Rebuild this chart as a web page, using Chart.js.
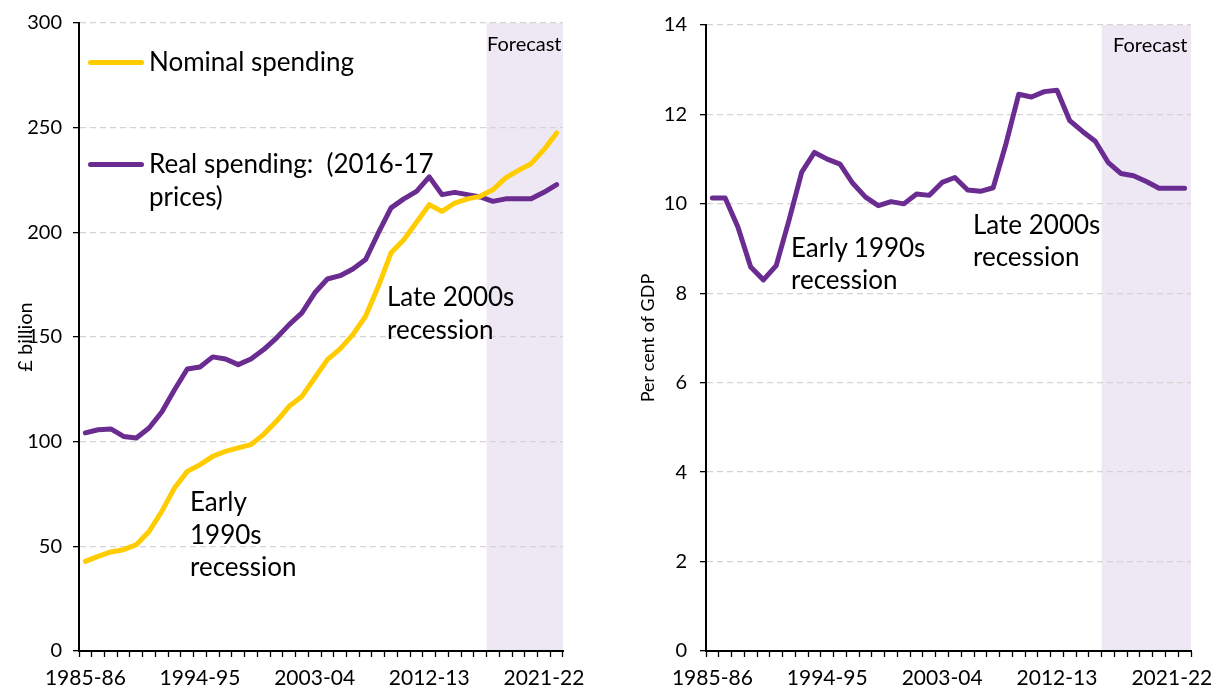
<!DOCTYPE html>
<html>
<head>
<meta charset="utf-8">
<script src="https://cdn.jsdelivr.net/npm/chart.js@4.4.0/dist/chart.umd.min.js"></script>
<style>
  html, body { margin: 0; padding: 0; background: #fff; }
  #wrap { position: relative; width: 1218px; height: 690px; overflow: hidden; font-family: Lato, "Open Sans", sans-serif; color: #000; }
  canvas { position: absolute; top: 0; }
  .t { position: absolute; white-space: pre; font-size: 26px; line-height: 32px; color: #000; }
  .f { position: absolute; white-space: pre; font-size: 20px; line-height: 24px; color: #000; }
  .sw { position: absolute; height: 5px; border-radius: 3px; }
</style>
</head>
<body>
<div id="wrap">
  <canvas id="c1" width="600" height="690" style="left:0"></canvas>
  <canvas id="c2" width="618" height="690" style="left:600px"></canvas>

  <div class="sw" style="left:88px; top:60px; width:56px; background:#FFCC00"></div>
  <div class="t" style="left:149px; top:45px">Nominal spending</div>
  <div class="sw" style="left:88px; top:162px; width:56px; background:#6A2C91"></div>
  <div class="t" style="left:149px; top:147px; line-height:33px">Real spending:  (2016-17
prices)</div>
  <div class="t" style="left:387px; top:280px; line-height:33px">Late 2000s
recession</div>
  <div class="t" style="left:190px; top:485px; line-height:32.5px">Early
1990s
recession</div>
  <div class="f" style="left:487px; top:31px">Forecast</div>

  <div class="t" style="left:791px; top:231px">Early 1990s
recession</div>
  <div class="t" style="left:973px; top:208px">Late 2000s
recession</div>
  <div class="f" style="left:1113px; top:32px">Forecast</div>
</div>
<script>
const years = ["1985-86","1986-87","1987-88","1988-89","1989-90","1990-91","1991-92","1992-93","1993-94","1994-95",
  "1995-96","1996-97","1997-98","1998-99","1999-00","2000-01","2001-02","2002-03","2003-04","2004-05",
  "2005-06","2006-07","2007-08","2008-09","2009-10","2010-11","2011-12","2012-13","2013-14","2014-15",
  "2015-16","2016-17","2017-18","2018-19","2019-20","2020-21","2021-22","2022-23"];

const nominalSpending = [42.8,45.2,47.3,48.4,50.8,57.1,66.7,77.9,85.8,89,93,95.4,97,98.6,103.5,109.7,116.9,121.6,130.4,139.2,
  144.3,151.1,159.9,174.2,190.2,196.5,204.8,213.2,210,214,216,217.2,220.4,226,229.6,232.8,239.5,247.5];

const realSpending = [104.2,105.7,106.1,102.5,101.8,106.5,114.2,124.8,134.7,135.7,140.5,139.5,136.8,139.5,144,149.5,155.9,161.5,171,177.7,
  179.3,182.5,187,199.7,211.7,216,219.6,226.5,218,219.1,218,216.9,214.8,216,216,216,219.1,222.8];

const percentOfGDP = [10.13,10.13,9.48,8.59,8.30,8.62,9.63,10.71,11.15,11.0,10.89,10.46,10.15,9.96,10.05,10.0,10.22,10.19,10.48,10.59,
  10.31,10.28,10.36,11.34,12.45,12.39,12.51,12.54,11.86,11.62,11.40,10.93,10.68,10.63,10.5,10.35,10.35,10.35];

const leftForecastStart = "2017-18";
const rightForecastStart = "2016-17";
const labelEvery = 9;

const PURPLE = "#6A2C91";
const YELLOW = "#FFCC00";
const SHADE = "#EDE8F3";
const FONT = "Lato, 'Open Sans', sans-serif";

function forecastPlugin(startLabel) {
  return {
    id: "forecast",
    beforeDraw(chart) {
      const x = chart.scales.x, ca = chart.chartArea, ctx = chart.ctx;
      const idx = years.indexOf(startLabel);
      const half = (x.getPixelForValue(1) - x.getPixelForValue(0)) / 2;
      const x0 = x.getPixelForValue(idx) - half;
      ctx.save();
      ctx.fillStyle = SHADE;
      ctx.fillRect(x0, ca.top, ca.right - x0, ca.bottom - ca.top);
      ctx.restore();
    }
  };
}

function makeOptions(yMax, yStep, yTitle, yWidth, padRight, titlePad, titleSize, tickPad) {
  return {
    responsive: false,
    devicePixelRatio: 1,
    animation: false,
    layout: { padding: { top: 23, right: padRight, bottom: 0, left: 0 } },
    plugins: { legend: { display: false }, tooltip: { enabled: false } },
    elements: { point: { radius: 0 }, line: { tension: 0, borderJoinStyle: "round", borderCapStyle: "round" } },
    scales: {
      x: {
        type: "category",
        offset: true,
        grid: { display: true, offset: true, drawOnChartArea: false, drawTicks: true, tickLength: 6, tickColor: "#000", tickWidth: 1.3, color: "#000" },
        border: { display: true, color: "#000", width: 2 },
        ticks: {
          autoSkip: false, maxRotation: 0, minRotation: 0, padding: 9, color: "#000",
          font: { family: FONT, size: 21 },
          callback: function (v, i) { return i % labelEvery === 0 ? years[i] : ""; }
        },
        afterFit: function (s) { s.height = 39; }
      },
      y: {
        min: 0, max: yMax,
        grid: { color: "#D4D4D4", lineWidth: 1.3, drawTicks: true, tickLength: 6, tickColor: "#000", tickWidth: 1.3 },
        border: { display: true, color: "#000", width: 2, dash: [6, 4] },
        ticks: { stepSize: yStep, padding: tickPad, color: "#000", font: { family: FONT, size: 20 } },
        title: { display: true, text: yTitle, color: "#000", font: { family: FONT, size: titleSize }, padding: { top: titlePad, bottom: 0 } },
        afterFit: function (s) { s.width = yWidth; }
      }
    }
  };
}

new Chart(document.getElementById("c1"), {
  type: "line",
  data: {
    labels: years,
    datasets: [
      { label: "Nominal spending", data: nominalSpending, borderColor: YELLOW, borderWidth: 5, fill: false },
      { label: "Real spending:  (2016-17 prices)", data: realSpending, borderColor: PURPLE, borderWidth: 5, fill: false }
    ]
  },
  options: makeOptions(300, 50, "£ billion", 79, 37, 14, 20, 11),
  plugins: [forecastPlugin(leftForecastStart)]
});

new Chart(document.getElementById("c2"), {
  type: "line",
  data: {
    labels: years,
    datasets: [
      { label: "Per cent of GDP", data: percentOfGDP, borderColor: PURPLE, borderWidth: 5, fill: false }
    ]
  },
  options: makeOptions(14, 2, "Per cent of GDP", 106, 27, 37, 18, 13),
  plugins: [forecastPlugin(rightForecastStart)]
});
</script>
</body>
</html>
